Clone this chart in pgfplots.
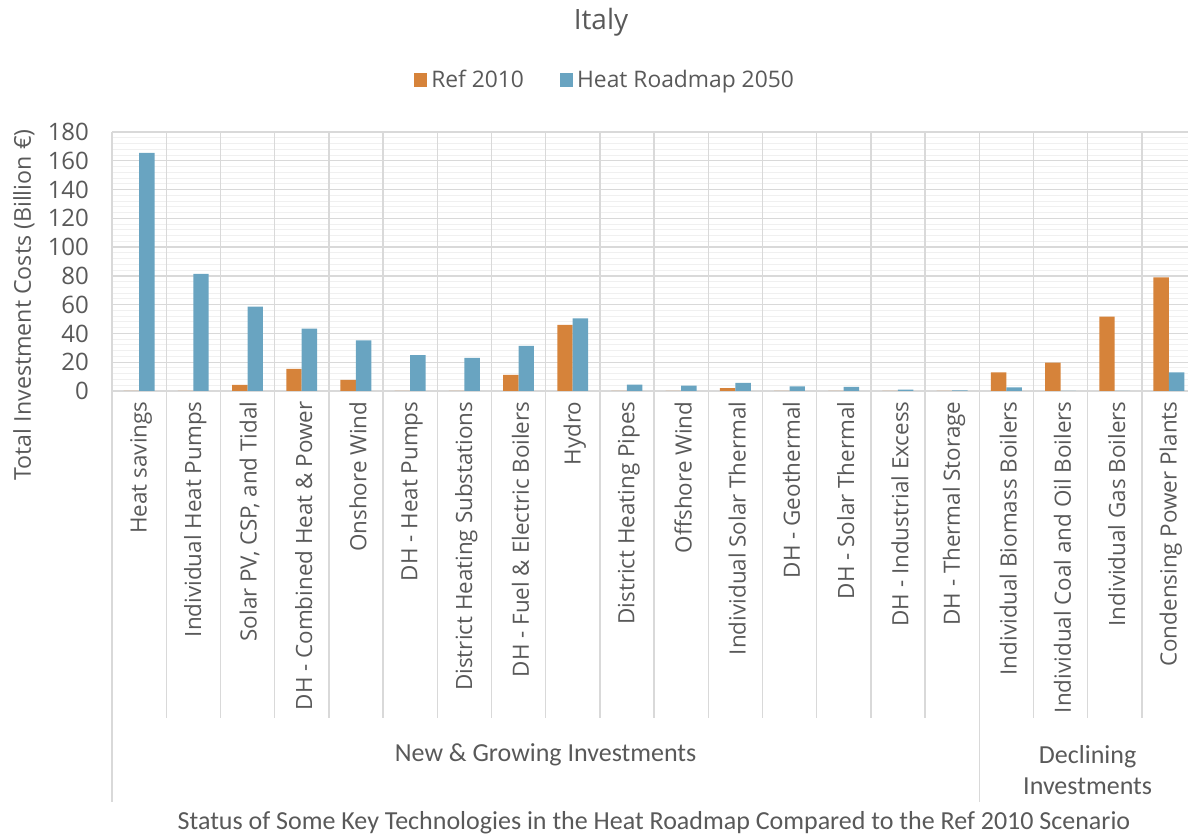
\documentclass[border=0pt]{standalone}
\usepackage{fontspec}
\setmainfont{Open Sans}
\newfontfamily\calib{Carlito}
\usepackage{pgfplots}
\pgfplotsset{compat=1.18}
\definecolor{refor}{HTML}{D6833A}
\definecolor{hrblue}{HTML}{69A4C1}
\definecolor{txt}{HTML}{595959}
\definecolor{gridc}{HTML}{D9D9D9}
\definecolor{minorc}{HTML}{F0F0F0}

\begin{document}
\begin{tikzpicture}
\path[use as bounding box] (0,0) rectangle (594pt,419pt);
\begin{axis}[
  at={(56pt,223.5pt)}, anchor=south west,
  scale only axis, width=542pt, height=129.5pt,
  ybar=0pt, bar width=0.285,
  xmin=-0.5, xmax=19.5, ymin=0, ymax=180,
  ytick={0,20,...,180}, minor y tick num=4,
  ymajorgrids, yminorgrids,
  major grid style={gridc, line width=0.7pt},
  minor grid style={minorc, line width=0.5pt},
  axis line style={draw=none}, tick style={draw=none},
  xtick={0,...,19},
  xticklabels={Heat savings, Individual Heat Pumps, {Solar PV, CSP, and Tidal},
    DH - Combined Heat \& Power, Onshore Wind, DH - Heat Pumps,
    District Heating Substations, DH - Fuel \& Electric Boilers, Hydro,
    District Heating Pipes, Offshore Wind, Individual Solar Thermal,
    DH - Geothermal, DH - Solar Thermal, DH - Industrial Excess,
    DH - Thermal Storage, Individual Biomass Boilers,
    Individual Coal and Oil Boilers, Individual Gas Boilers,
    Condensing Power Plants},
  xticklabel style={rotate=90, anchor=east, font=\fontsize{11.2}{13}\selectfont, text=txt, xshift=2.5pt, yshift=-1pt},
  yticklabel style={font=\fontsize{12}{14}\selectfont, text=txt, xshift=-8pt},
  /pgf/number format/assume math mode=true,
  clip=false,
  legend style={at={(0.4557,1.2008)}, anchor=center, draw=none, fill=none,
    legend columns=2, font=\fontsize{11.4}{13}\selectfont, text=txt,
    /tikz/every even column/.append style={column sep=16pt}},
  legend image code/.code={\fill[#1] (0pt,-3.3pt) rectangle (6.6pt,3.3pt);},
]
\pgfplotsinvokeforeach{0,...,20}{
  \draw[gridc, line width=0.7pt] (axis cs:#1-0.5,180) -- ([yshift=-163.5pt]axis cs:#1-0.5,0);
}
\pgfplotsinvokeforeach{0,16,20}{
  \draw[gridc, line width=0.7pt] (axis cs:#1-0.5,0) -- ([yshift=-205.5pt]axis cs:#1-0.5,0);
}
\addplot[fill=refor, draw=none] coordinates {
  (0,0) (1,0) (2,4.2) (3,15.3) (4,7.7) (5,0) (6,0) (7,11.2) (8,46) (9,0)
  (10,0) (11,2) (12,0) (13,0) (14,0) (15,0) (16,13) (17,19.8) (18,51.6) (19,79)};
\addlegendentry{Ref 2010}
\addplot[fill=hrblue, draw=none] coordinates {
  (0,165.4) (1,81.4) (2,58.6) (3,43.3) (4,35.1) (5,24.9) (6,23) (7,31.4) (8,50.5) (9,4.4)
  (10,3.7) (11,5.6) (12,3.2) (13,2.8) (14,1.0) (15,0.4) (16,2.6) (17,0) (18,0) (19,13)};
\addlegendentry{Heat Roadmap 2050}
\node[font=\calib\fontsize{13}{15.5}\selectfont, text=txt, yshift=-182pt] at (axis cs:7.5,0) {New \& Growing Investments};
\node[font=\calib\fontsize{13}{15.5}\selectfont, text=txt, align=center, yshift=-189.5pt] at (axis cs:17.5,0) {Declining\\Investments};
\node[font=\calib\fontsize{13}{15.5}\selectfont, text=txt, yshift=-216pt] at (axis cs:9.5,0) {Status of Some Key Technologies in the Heat Roadmap Compared to the Ref 2010 Scenario};
\end{axis}
\node[font=\fontsize{14}{16}\selectfont, text=txt] at (300.5pt,408pt) {Italy};
\node[rotate=90, font=\fontsize{11.6}{13}\selectfont, text=txt] at (12pt,266.5pt) {Total Investment Costs (Billion €)};
\end{tikzpicture}
\end{document}
